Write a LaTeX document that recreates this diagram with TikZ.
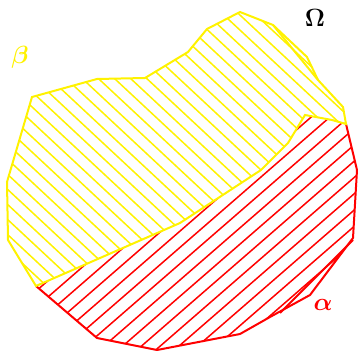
\documentclass[tikz,border=0pt]{standalone}
\usepackage{amsmath}
\begin{document}
\begin{tikzpicture}[x=1pt,y=1pt,
  edge/.style={line width=2pt, line join=miter},
  hatch/.style={line width=1.5pt},
  lbl/.style={inner sep=0pt, font=\fontsize{24}{24}\selectfont}]
\useasboundingbox (0,0) rectangle (358,-350);
% ---------- red region alpha ----------
\begin{scope}
\clip (36,-286) -- (97,-338) -- (157,-350) -- (240,-334) -- (270,-317) -- (310,-295) -- (353,-238) -- (357,-170) -- (346,-124) -- (332,-120) -- (305,-115) -- (288,-143) -- (261,-170) -- (180,-223) -- cycle;
\begin{scope}[rotate around={41:(200,-230)}]
\foreach \k in {-25,...,25} \draw[red,hatch] (-100,-230+\k*12.3) -- (500,-230+\k*12.3);
\end{scope}
\end{scope}
\draw[red,edge] (36,-286) -- (97,-338) -- (157,-350) -- (240,-334) -- (270,-317) -- (310,-295) -- (353,-238) -- (357,-170) -- (346,-124);
\draw[red,edge] (353,-240) -- (280,-313);
% ---------- yellow region beta ----------
\begin{scope}
\clip (32,-97) -- (97,-79) -- (145,-78) -- (188,-52) -- (207,-29) -- (240,-12) -- (273,-25) -- (307,-57) -- (318,-80) -- (343,-107) -- (346,-124) -- (332,-120) -- (305,-115) -- (288,-143) -- (261,-170) -- (180,-223) -- (36,-286) -- (8,-240) -- (7,-182) -- cycle;
\begin{scope}[rotate around={-43:(175,-150)}]
\foreach \k in {-25,...,25} \draw[yellow,hatch] (-100,-150+\k*11) -- (500,-150+\k*11);
\end{scope}
\end{scope}
\draw[yellow,edge] (32,-97) -- (97,-79) -- (145,-78) -- (188,-52) -- (207,-29) -- (240,-12) -- (273,-25) -- (307,-57) -- (318,-80) -- (343,-107) -- (346,-124) -- (332,-120) -- (305,-115) -- (288,-143) -- (261,-170) -- (180,-223) -- (36,-286) -- (8,-240) -- (7,-182) -- cycle;
\draw[yellow,edge] (273,-25) -- (318,-80);
% ---------- labels ----------
\node[lbl] (omega) at (315,-18) {$\boldsymbol{\Omega}$};
\node[lbl, text=yellow] (beta) at (20,-57) {$\boldsymbol{\beta}$};
\node[lbl, text=red] (alpha) at (323,-305) {$\boldsymbol{\alpha}$};
\end{tikzpicture}
\end{document}
